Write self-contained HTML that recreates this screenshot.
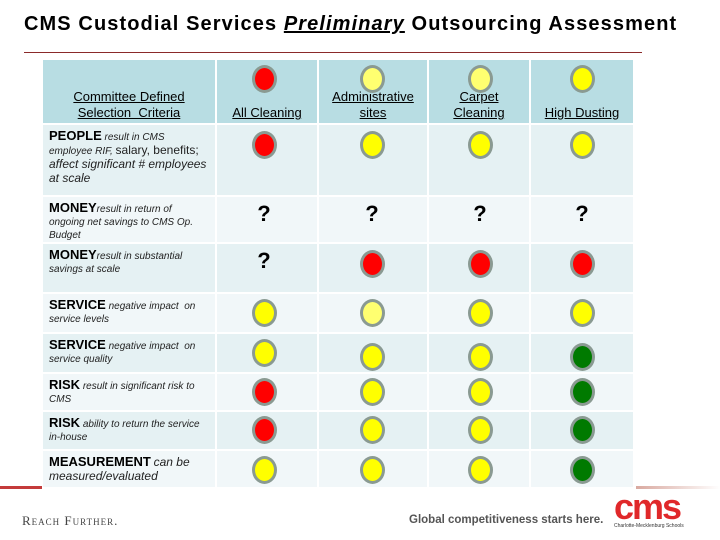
<!DOCTYPE html>
<html><head><meta charset="utf-8">
<style>
body{margin:0;width:720px;height:540px;background:#fff;position:relative;overflow:hidden;font-family:"Liberation Sans",Arial,sans-serif}
.abs{position:absolute}
.cell{position:absolute;box-sizing:border-box}
.hdr{background:#b8dde3;font-size:13px;text-decoration:underline;text-align:center;color:#000;line-height:16px}
.lab{font-size:10px;font-style:italic;line-height:13px;padding:4px 6px;color:#222}
.lab b{font-style:normal;font-size:13px;color:#000}
.dot{position:absolute;width:19px;height:22px;border-radius:50%;border:3px solid #8a9a92;box-sizing:content-box}
.q{position:absolute;font-size:22px;font-weight:bold;width:30px;text-align:center}
</style></head><body>
<div class="abs" style="left:24px;top:13px;font-size:20px;font-weight:bold;letter-spacing:1.1px;white-space:nowrap">CMS Custodial Services <i><u>Preliminary</u></i> Outsourcing Assessment</div>
<div class="abs" style="left:24px;top:52px;width:618px;height:1px;background:#8b2a2a"></div>
<div id="tbl"></div>
<div class="abs" style="left:0;top:486px;width:42px;height:3px;background:#c43b3b"></div>
<div class="abs" style="left:636px;top:486px;width:84px;height:3px;background:linear-gradient(90deg,#d9a9a0,#fff)"></div>
<div class="abs" style="left:22px;top:513px;font-family:'Liberation Serif',serif;font-size:13px;font-variant:small-caps;color:#444;letter-spacing:1px">Reach Further.</div>
<div class="abs" style="left:409px;top:514px;font-size:11.5px;font-weight:bold;color:#555">Global competitiveness starts here.</div>
<div class="abs" style="left:614px;top:490px;font-size:36px;font-weight:bold;color:#e0282a;letter-spacing:-2px;line-height:34px">cms</div>
<div class="abs" style="left:614px;top:523px;font-size:5px;color:#333">Charlotte-Mecklenburg Schools</div>
<script>
const colX=[43,217,319,429,531,635];
const rowY=[60,125,197,244,294,334,374,412,451,489];
const headers=["Committee Defined<br>Selection &nbsp;Criteria","All Cleaning","Administrative<br>sites","Carpet<br>Cleaning","High Dusting"];
const headerStatus=["R","L","L","Y"];
const labels=[
"<b>PEOPLE</b> result in CMS employee RIF, <span style='font-style:normal;font-size:12px'>salary, benefits;</span><br><span style='font-size:12px'>affect significant # employees at scale</span>",
"<b>MONEY</b>result in return of ongoing net savings to CMS Op. Budget",
"<b>MONEY</b>result in substantial savings at scale",
"<b>SERVICE</b> negative impact &nbsp;on service levels",
"<b>SERVICE</b> negative impact &nbsp;on service quality",
"<b>RISK</b> result in significant risk to CMS",
"<b>RISK</b> ability to return the service in-house",
"<b>MEASUREMENT</b> <span style='font-size:12px'>can be measured/evaluated</span>"];
const status=[
["R","Y","Y","Y"],
["Q","Q","Q","Q"],
["Q","R","R","R"],
["Y","L","Y","Y"],
["Y","Y","Y","G"],
["R","Y","Y","G"],
["R","Y","Y","G"],
["Y","Y","Y","G"]];
const fill={R:"#ff0000",Y:"#ffff00",L:"#ffff70",G:"#007a00"};
const centers=[264,372,480,582];
const tbl=document.getElementById('tbl');
function dot(cx,top,s){
  const d=document.createElement('div');
  
  
  if(s==="Q"){d.className='q';d.textContent='?';d.style.left=(cx-15)+'px';d.style.top=(top-2)+'px';}
  else{d.className='dot';d.style.left=(cx-12)+'px';d.style.top=top+'px';d.style.background=fill[s];}
  document.body.appendChild(d);
}
for(let c=0;c<5;c++){
  const h=document.createElement('div');
  h.className='cell hdr';
  
  
  h.style.left=colX[c]+'px';h.style.top=rowY[0]+'px';
  h.style.width=(colX[c+1]-colX[c]-2)+'px';h.style.height=(rowY[1]-rowY[0]-2)+'px';
  h.style.display='flex';h.style.alignItems='flex-end';h.style.justifyContent='center';h.style.paddingBottom='2px';
  h.innerHTML='<span>'+headers[c]+'</span>';
  tbl.appendChild(h);
}
for(let c=0;c<4;c++) dot(centers[c],65,headerStatus[c]);
const rowOffs=[6,6,6,5,5,4,4,5];
for(let r=0;r<labels.length;r++){
  const bg=r%2===0?'#e5f1f3':'#f1f7f9';
  for(let c=0;c<5;c++){
    const d=document.createElement('div');
    d.className='cell'+(c===0?' lab':'');
    
    
    d.style.left=colX[c]+'px';d.style.top=rowY[r+1]+'px';
    d.style.width=(colX[c+1]-colX[c]-2)+'px';d.style.height=(rowY[r+2]-rowY[r+1]-2)+'px';
    d.style.background=bg;
    if(c===0)d.innerHTML=labels[r];
    tbl.appendChild(d);
  }
  for(let c=0;c<4;c++){
    let t=rowY[r+1]+rowOffs[r];
    if(r===4&&c>0)t+=4;
    dot(centers[c],t,status[r][c]);
  }
}
</script>
</body></html>
